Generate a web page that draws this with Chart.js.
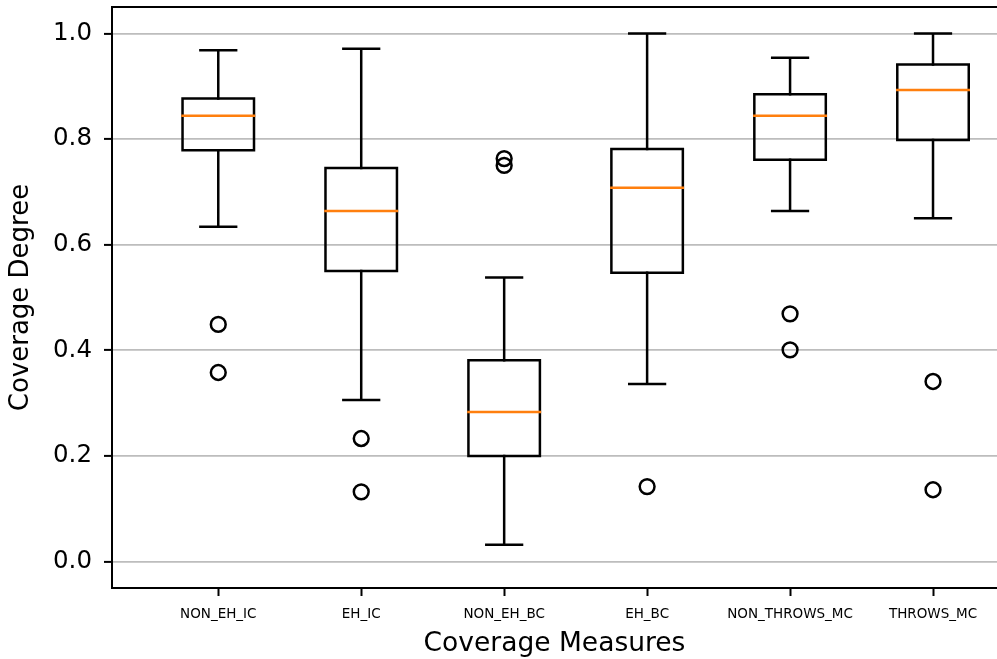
<!DOCTYPE html>
<html><head><meta charset="utf-8">
<script src="https://cdn.jsdelivr.net/npm/chart.js@4.4.0/dist/chart.umd.min.js"></script>
<style>html,body{margin:0;padding:0;background:#fff;} canvas{display:block;}</style>
</head><body>
<canvas id="c" width="997" height="659"></canvas>
<script>
// ---- data ----
const categories  = ['NON_EH_IC', 'EH_IC', 'NON_EH_BC', 'EH_BC', 'NON_THROWS_MC', 'THROWS_MC'];
const whiskerLow  = [0.634, 0.306, 0.032, 0.336, 0.664, 0.650];
const q1          = [0.779, 0.550, 0.200, 0.547, 0.761, 0.798];
const median      = [0.844, 0.664, 0.283, 0.708, 0.844, 0.893];
const q3          = [0.877, 0.745, 0.381, 0.781, 0.885, 0.941];
const whiskerHigh = [0.968, 0.971, 0.538, 1.000, 0.954, 1.000];
const outliers    = [[0.449, 0.358], [0.233, 0.132], [0.763, 0.750], [0.142], [0.469, 0.401], [0.341, 0.136]];
const yTicks      = [0.0, 0.2, 0.4, 0.6, 0.8, 1.0];

// ---- build line/point data from the arrays ----
const positions = categories.map((_, i) => i + 1);
const BOX_HALF = 0.25, CAP_HALF = 0.125;

const boxData = [], whiskerData = [], medianData = [], flierData = [];
positions.forEach((p, i) => {
  boxData.push({x: p - BOX_HALF, y: q1[i]}, {x: p + BOX_HALF, y: q1[i]},
               {x: p + BOX_HALF, y: q3[i]}, {x: p - BOX_HALF, y: q3[i]},
               {x: p - BOX_HALF, y: q1[i]}, {x: p, y: null});
  whiskerData.push({x: p, y: q1[i]}, {x: p, y: whiskerLow[i]}, {x: p, y: null},
                   {x: p, y: q3[i]}, {x: p, y: whiskerHigh[i]}, {x: p, y: null},
                   {x: p - CAP_HALF, y: whiskerLow[i]}, {x: p + CAP_HALF, y: whiskerLow[i]}, {x: p, y: null},
                   {x: p - CAP_HALF, y: whiskerHigh[i]}, {x: p + CAP_HALF, y: whiskerHigh[i]}, {x: p, y: null});
  medianData.push({x: p - BOX_HALF, y: median[i]}, {x: p + BOX_HALF, y: median[i]}, {x: p, y: null});
  outliers[i].forEach(v => flierData.push({x: p, y: v}));
});

const lineDefaults = {showLine: true, pointRadius: 0, pointHoverRadius: 0, spanGaps: false,
  borderCapStyle: 'square', borderJoinStyle: 'miter', tension: 0, fill: false};

const topSpine = {
  id: 'topSpine',
  afterDraw(chart) {
    const {ctx, chartArea: a} = chart;
    ctx.save();
    ctx.strokeStyle = '#000'; ctx.lineWidth = 2;
    ctx.beginPath(); ctx.moveTo(a.left - 1, a.top); ctx.lineTo(a.right, a.top); ctx.stroke();
    ctx.restore();
  }
};

const FONT = 'DejaVu Sans';

new Chart(document.getElementById('c'), {
  type: 'scatter',
  data: {
    datasets: [
      Object.assign({label: 'medians', data: medianData, borderColor: '#ff7f0e', borderWidth: 2.5, order: 0}, lineDefaults),
      {label: 'fliers', data: flierData, showLine: false, pointStyle: 'circle', pointRadius: 7.4, pointHoverRadius: 7.4,
       pointBorderWidth: 2.5, borderColor: '#000', backgroundColor: 'rgba(0,0,0,0)', order: 1},
      Object.assign({label: 'boxes', data: boxData, borderColor: '#000', borderWidth: 2.5, order: 2}, lineDefaults),
      Object.assign({label: 'whiskers', data: whiskerData, borderColor: '#000', borderWidth: 2.5, order: 3}, lineDefaults)
    ]
  },
  options: {
    responsive: false,
    devicePixelRatio: 1,
    animation: false,
    events: [],
    layout: {autoPadding: false, padding: {left: 0, top: 7, right: 0, bottom: 0}},
    plugins: {legend: {display: false}, tooltip: {enabled: false}},
    scales: {
      x: {
        type: 'linear', min: 0.2566, max: 6.4476,
        afterBuildTicks: s => { s.ticks = positions.map(v => ({value: v})); },
        afterFit: s => { s.height = 71; s.paddingLeft = 0; s.paddingRight = 0; },
        ticks: {
          callback: v => categories[Math.round(v) - 1] ?? '',
          font: {family: FONT, size: 13.5}, color: '#000', padding: 10,
          maxRotation: 0, autoSkip: false
        },
        grid: {drawOnChartArea: false, tickLength: 8, tickColor: '#000', tickWidth: 2},
        border: {color: '#000', width: 2},
        title: {display: true, text: 'Coverage Measures', font: {family: FONT, size: 26.5}, color: '#000',
                padding: {top: 0, bottom: -1}}
      },
      y: {
        type: 'linear', min: -0.05, max: 1.05,
        afterBuildTicks: s => { s.ticks = yTicks.map(v => ({value: v})); },
        afterFit: s => { s.width = 112; s.paddingTop = 0; s.paddingBottom = 0; },
        ticks: {
          callback: v => Number(v).toFixed(1),
          font: {family: FONT, size: 24.5}, color: '#000', padding: 12
        },
        grid: {color: '#bdbdbd', lineWidth: 1.8, tickLength: 8, tickColor: '#000', tickWidth: 2},
        border: {color: '#000', width: 2},
        title: {display: true, text: 'Coverage Degree', font: {family: FONT, size: 26}, color: '#000',
                padding: {top: 6, bottom: 0}}
      }
    }
  },
  plugins: [topSpine]
});
</script>
</body></html>
